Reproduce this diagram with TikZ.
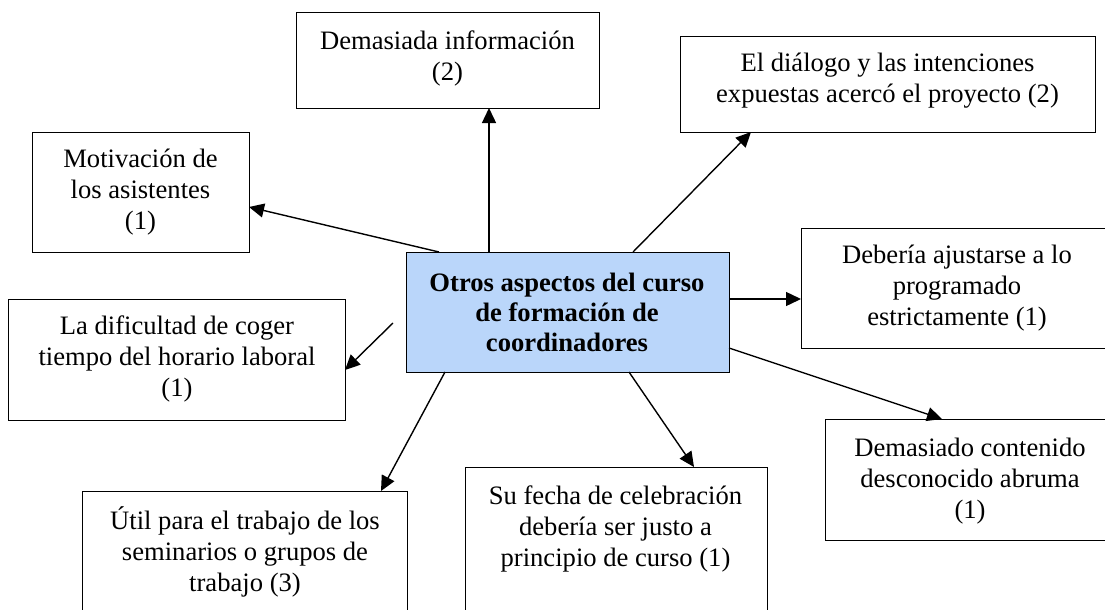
\documentclass[tikz,border=0pt]{standalone}
\usepackage{fontspec}
\setmainfont{Liberation Serif}
\usetikzlibrary{arrows.meta,calc}
\definecolor{cfill}{RGB}{186,214,250}
\begin{document}
\begin{tikzpicture}[x=1pt,y=-1pt,
  box/.style={draw, line width=1.4pt, inner sep=0pt, anchor=north west},
  txt/.style={align=center, font=\fontsize{26.6}{31}\selectfont, inner sep=0pt},
  arr/.style={line width=1.4pt, -{Triangle[length=15pt,width=14pt]}}]
\useasboundingbox (0,0) rectangle (1105,610);
\clip (0,0) rectangle (1105,610);
\fill[white] (0,0) rectangle (1105,610);
% boxes
\node[box, minimum width=303pt, minimum height=96pt] (info) at (296,12) {};
\node[box, minimum width=217pt, minimum height=120pt] (motiv) at (32,132) {};
\node[box, minimum width=415pt, minimum height=96pt] (dial) at (680,36) {};
\node[box, minimum width=320pt, minimum height=120pt] (deb) at (801,228) {};
\node[box, minimum width=337pt, minimum height=121pt] (dif) at (8,299) {};
\node[box, minimum width=325pt, minimum height=150pt] (util) at (82,491) {};
\node[box, minimum width=302pt, minimum height=170pt] (fecha) at (464.5,467) {};
\node[box, minimum width=300pt, minimum height=121pt] (cont) at (825,419) {};
\node[box, fill=cfill, minimum width=323pt, minimum height=120pt] (c) at (406,252) {};
% texts
\node[txt] (tinfo) at (447.5,58) {Demasiada información\\(2)};
\node[txt] (tmotiv) at (140.5,192) {Motivación de\\los asistentes\\(1)};
\node[txt] (tdial) at (887.5,81) {El diálogo y las intenciones\\expuestas acercó el proyecto (2)};
\node[txt] (tdeb) at (957,288) {Debería ajustarse a lo\\programado\\estrictamente (1)};
\node[txt] (tdif) at (177,359) {La dificultad de coger\\tiempo del horario laboral\\(1)};
\node[txt] (tutil) at (245,552) {Útil para el trabajo de los\\seminarios o grupos de\\trabajo (3)};
\node[txt] (tfecha) at (615.5,529) {Su fecha de celebración\\debería ser justo a\\principio de curso (1)};
\node[txt] (tcont) at (970,481) {Demasiado contenido\\desconocido abruma\\(1)};
\node[txt, font=\fontsize{26.6}{30}\selectfont\bfseries] (tc) at (567,312) {Otros aspectos del curso\\de formación de\\coordinadores};
% connector end points
\coordinate (s1) at (489,252); \coordinate (e1) at (489,108);
\coordinate (s2) at (439,252); \coordinate (e2) at (249,207);
\coordinate (s3) at (633,252); \coordinate (e3) at (751,132);
\coordinate (s4) at (729,299); \coordinate (e4) at (801,299);
\coordinate (s5) at (393,323); \coordinate (e5) at (345,370);
\coordinate (s6) at (445,372); \coordinate (e6) at (381,491);
\coordinate (s7) at (629,372); \coordinate (e7) at (694,467);
\coordinate (s8) at (729,348); \coordinate (e8) at (942,419);
\foreach \i in {1,...,8} { \draw[arr] (s\i) -- (e\i); }
\end{tikzpicture}
\end{document}
